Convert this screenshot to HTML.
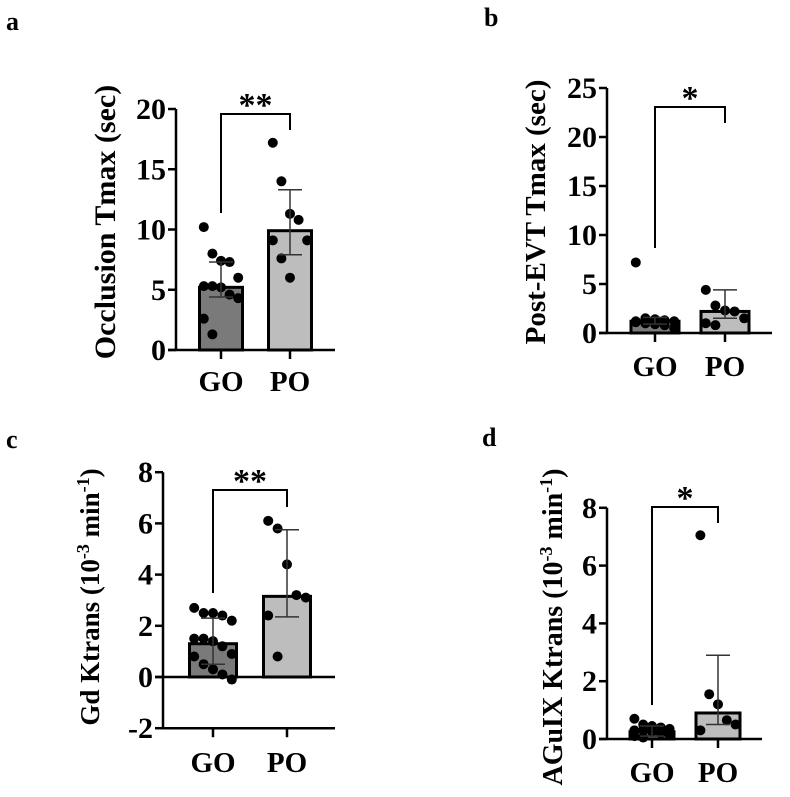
<!DOCTYPE html>
<html><head><meta charset="utf-8"><style>
body{margin:0;background:#fff;}
svg{display:block;font-family:"Liberation Serif",serif;font-weight:bold;}
</style></head><body>
<svg id="fig" width="790" height="797" viewBox="0 0 790 797">
<text x="6" y="30" font-size="26">a</text>
<text x="484" y="26" font-size="26">b</text>
<text x="6" y="448" font-size="26">c</text>
<text x="482" y="446" font-size="26">d</text>
</svg>
<script>
// Panel a
const aCategories=["GO","PO"];
const aMeans=[5.2,9.9];
const aErrHi=[7.3,13.3];
const aErrLo=[4.4,7.9];
const aGO=[10.2,8.0,7.4,7.3,6.0,5.3,5.3,5.2,4.6,4.3,2.6,1.3];
const aPO=[17.2,14.0,11.3,10.8,9.1,9.1,7.6,6.0];
const aTicks=[0,5,10,15,20];
// Panel b
const bMeans=[1.2,2.2];
const bErrHi=[1.6,4.4];
const bErrLo=[0.9,1.5];
const bGO=[7.2,1.5,1.4,1.3,1.2,1.1,1.0,0.9,0.8,0.5,1.2,1.0];
const bPO=[4.4,2.8,2.3,2.2,1.5,1.0,0.8];
const bTicks=[0,5,10,15,20,25];
// Panel c
const cMeans=[1.3,3.15];
const cErrHi=[2.3,5.75];
const cErrLo=[0.5,2.35];
const cGO=[2.7,2.5,2.5,2.4,2.2,1.5,1.5,1.4,1.2,0.9,0.8,0.5,0.3,0.1,-0.1];
const cPO=[6.1,5.8,4.4,3.2,3.1,2.4,0.8];
const cTicks=[-2,0,2,4,6,8];
// Panel d
const dMeans=[0.25,0.9];
const dErrHi=[0.45,2.9];
const dErrLo=[0.1,0.5];
const dGO=[0.7,0.5,0.45,0.4,0.35,0.3,0.3,0.25,0.2,0.15,0.1,0.05];
const dPO=[7.05,1.55,1.2,0.65,0.5,0.3];
const dTicks=[0,2,4,6,8];

const NS="http://www.w3.org/2000/svg";
const svg=document.getElementById('fig');
function mk(tag,attrs,parent){const e=document.createElementNS(NS,tag);for(const k in attrs)e.setAttribute(k,attrs[k]);(parent||svg).appendChild(e);return e;}

function panel(p){
  const g=mk('g',{});
  
  
  const y=v=>p.y0-(v)*p.ppu;
  const top=y(p.ticks[p.ticks.length-1]), bottom=y(p.ticks[0]);
  const pts=[p.go,p.po], fills=['#7a7a7a','#bdbdbd'];
  p.cx.forEach((cx,i)=>{
    const yt=y(p.means[i]), yb=y(0);
    const r=mk('rect',{x:cx-p.bw/2,y:Math.min(yt,yb),width:p.bw,height:Math.abs(yb-yt),fill:fills[i],stroke:'#000','stroke-width':3},g);
    
    
  });
  p.cx.forEach((cx,i)=>{
    const arr=pts[i];
    arr.forEach((v,j)=>{
      const off=((j%5)-2)*p.bw*0.2;
      const c=mk('circle',{cx:cx+off,cy:y(v),r:5,fill:'#000'},g);
      
      
    });
  });
  p.cx.forEach((cx,i)=>{
    const e=mk('path',{d:`M${cx},${y(p.errLo[i])}V${y(p.errHi[i])}M${cx-12},${y(p.errHi[i])}H${cx+12}M${cx-12},${y(p.errLo[i])}H${cx+12}`,stroke:'#333','stroke-width':1.5,fill:'none'},g);
    
    
  });
  const ya=mk('path',{d:`M${p.ax},${top}V${bottom}`,stroke:'#000','stroke-width':2.5},g);
  
  
  const xa=mk('path',{d:`M${p.ax-8},${y(0)}H${p.xEnd}`+(p.ticks[0]<0?`M${p.ax},${bottom}H${p.xEnd}`:''),stroke:'#000','stroke-width':2.5},g);
  
  
  p.ticks.forEach(t=>{
    mk('path',{d:`M${p.ax-8},${y(t)}H${p.ax}`,stroke:'#000','stroke-width':2.5},g);
    const tx=mk('text',{x:p.ax-10,y:y(t)+10,'font-size':30,'text-anchor':'end'},g);
    tx.textContent=String(t);
    
    
  });
  const xb=p.ticks[0]<0?bottom:y(0);
  p.cx.forEach((cx,i)=>{
    mk('path',{d:`M${cx},${xb}V${xb+9}`,stroke:'#000','stroke-width':2.5},g);
    const tx=mk('text',{x:cx,y:p.xly,'font-size':29,'text-anchor':'middle'},g);
    tx.textContent=aCategories[i];
    
    
  });
  const br=mk('path',{d:`M${p.cx[0]},${p.bl}V${p.by}H${p.cx[1]}V${p.br}`,stroke:'#000','stroke-width':2,fill:'none'},g);
  
  
  const st=mk('text',{x:(p.cx[0]+p.cx[1])/2,y:p.by+2,'font-size':34,'text-anchor':'middle'},g);
  st.textContent=p.star;
  
  
  const yt=mk('text',{x:0,y:0,'font-size':p.tfs,'text-anchor':'middle',transform:`translate(${p.tx},${p.ty}) rotate(-90)`},g);
  yt.innerHTML=p.title;
  
  
}

panel({id:'a',means:aMeans,errHi:aErrHi,errLo:aErrLo,go:aGO,po:aPO,ticks:aTicks,
  ax:176,y0:350,ppu:12.05,xEnd:335,cx:[221,290],bw:43,xly:391,bl:213,br:130,by:114,star:'**',
  tx:115,ty:222,tfs:30,title:'Occlusion Tmax  (sec)'});
panel({id:'b',means:bMeans,errHi:bErrHi,errLo:bErrLo,go:bGO,po:bPO,ticks:bTicks,
  ax:607,y0:333,ppu:9.8,xEnd:772,cx:[655,725],bw:48,xly:376,bl:248,br:123,by:107,star:'*',
  tx:545,ty:212,tfs:29,title:'Post-EVT Tmax (sec)'});
panel({id:'c',means:cMeans,errHi:cErrHi,errLo:cErrLo,go:cGO,po:cPO,ticks:cTicks,
  ax:163,y0:677,ppu:25.6,xEnd:335,cx:[213,287],bw:47,xly:772,bl:593,br:507,by:490,star:'**',
  tx:99,ty:597,tfs:27,title:'Gd Ktrans (10<tspan dy="-10" font-size="18">-3</tspan><tspan dy="10"> min</tspan><tspan dy="-10" font-size="18">-1</tspan><tspan dy="10">)</tspan>'});
panel({id:'d',means:dMeans,errHi:dErrHi,errLo:dErrLo,go:dGO,po:dPO,ticks:dTicks,
  ax:607,y0:739,ppu:28.9,xEnd:762,cx:[652,718],bw:44,xly:782,bl:705,br:523,by:507,star:'*',
  tx:562,ty:627,tfs:28,title:'AGuIX Ktrans (10<tspan dy="-10" font-size="18">-3</tspan><tspan dy="10"> min</tspan><tspan dy="-10" font-size="18">-1</tspan><tspan dy="10">)</tspan>'});
</script>
</body></html>
